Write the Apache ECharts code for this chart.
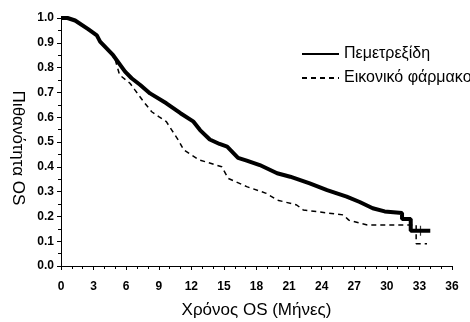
<!DOCTYPE html>
<html>
<head>
<meta charset="utf-8">
<script src="https://cdn.jsdelivr.net/npm/echarts@6/dist/echarts.min.js"></script>
<style>
  html, body { margin: 0; padding: 0; background: #fff; }
  #chart { width: 470px; height: 322px; }
</style>
</head>
<body>
<div id="chart"></div>
<script>
// Kaplan-Meier curves (months, survival probability)
const pemTime = [0, 0.6, 1.3, 2.5, 3.3, 3.6, 4.8, 5.9, 6.5, 7.3, 8.2, 9.7, 11.0, 12.2, 12.8, 13.7, 14.6, 15.3, 16.3, 17.1, 18.3, 19.9, 21.1, 22.9, 24.5, 26.3, 27.5, 28.7, 29.8, 31.4, 31.4, 32.2, 32.2, 34.0];
const pemSurv = [1.0, 1.0, 0.99, 0.955, 0.93, 0.905, 0.85, 0.784, 0.757, 0.73, 0.696, 0.656, 0.616, 0.582, 0.548, 0.51, 0.492, 0.481, 0.436, 0.425, 0.407, 0.374, 0.36, 0.333, 0.306, 0.28, 0.258, 0.233, 0.22, 0.214, 0.19, 0.19, 0.142, 0.142];

const plaTime = [0, 0.6, 1.3, 2.5, 3.3, 3.6, 4.8, 5.0, 5.4, 6.35, 6.8, 7.6, 8.35, 9.0, 9.7, 10.2, 10.8, 11.3, 12.5, 12.8, 14.8, 15.4, 17.1, 18.9, 19.9, 21.7, 22.3, 26.0, 26.5, 28.2, 32.7, 32.7, 33.7];
const plaSurv = [1.0, 1.0, 0.99, 0.955, 0.93, 0.905, 0.85, 0.83, 0.77, 0.737, 0.71, 0.663, 0.622, 0.602, 0.582, 0.548, 0.508, 0.468, 0.434, 0.427, 0.40, 0.353, 0.32, 0.293, 0.266, 0.246, 0.226, 0.206, 0.185, 0.165, 0.165, 0.09, 0.09];

// censored observation marks
const censorTime = [33.1];
const censorSurv = [0.142];

const seriesNames = ["Πεμετρεξίδη", "Εικονικό φάρμακο"];
const xTitle = "Χρόνος OS (Μήνες)";
const yTitle = "Πιθανότητα OS";

const zip = (a, b) => a.map((v, i) => [v, b[i]]);

const chart = echarts.init(document.getElementById("chart"));

const labelFont = {
    color: "#000",
    fontFamily: "Liberation Sans",
    fontWeight: "bold",
    fontSize: 12
};

chart.setOption({
    animation: false,
    grid: {left: 61, right: 18, top: 18, bottom: 56, outerBoundsMode: "none", containLabel: false},
    legend: {
        orient: "vertical",
        left: 296,
        top: 41,
        itemWidth: 37,
        itemHeight: 14,
        itemGap: 8,
        itemStyle: {opacity: 0},
        textStyle: {color: "#000", fontFamily: "Liberation Sans", fontSize: 16},
        data: seriesNames
    },
    xAxis: {
        type: "value",
        min: 0,
        max: 36,
        interval: 3,
        name: xTitle,
        nameLocation: "middle",
        nameGap: 36,
        nameTextStyle: {color: "#000", fontFamily: "Liberation Sans", fontSize: 17},
        axisLine: {lineStyle: {color: "#000", width: 1}},
        axisTick: {length: 4, lineStyle: {color: "#000"}},
        minorTick: {show: true, splitNumber: 3, length: 3, lineStyle: {color: "#000"}},
        axisLabel: Object.assign({margin: 15}, labelFont),
        splitLine: {show: false}
    },
    yAxis: {
        type: "value",
        min: 0,
        max: 1,
        interval: 0.1,
        name: yTitle,
        nameLocation: "middle",
        nameRotate: -90,
        nameGap: 34,
        nameTextStyle: {color: "#000", fontFamily: "Liberation Sans", fontSize: 17, padding: [0, 0, 0, 12]},
        axisLine: {show: true, lineStyle: {color: "#000", width: 1}},
        axisTick: {show: true, length: 4, lineStyle: {color: "#000"}},
        minorTick: {show: true, splitNumber: 2, length: 3, lineStyle: {color: "#000"}},
        axisLabel: Object.assign({margin: 7, formatter: v => v.toFixed(1)}, labelFont),
        splitLine: {show: false}
    },
    series: [
        {
            name: seriesNames[1],
            type: "line",
            symbol: "none",
            color: "#000",
            lineStyle: {color: "#000", width: 1.5, type: [5, 4]},
            data: zip(plaTime, plaSurv),
            z: 2
        },
        {
            name: seriesNames[0],
            type: "line",
            symbol: "none",
            color: "#000",
            lineStyle: {color: "#000", width: 4},
            data: zip(pemTime, pemSurv),
            z: 3
        },
        {
            type: "scatter",
            symbol: "path://M0,5L10,5M5,0L5,10",
            symbolSize: [10, 10],
            itemStyle: {color: "none", borderColor: "#000", borderWidth: 1.2},
            data: zip(censorTime, censorSurv),
            z: 4
        }
    ]
});
</script>
</body>
</html>
